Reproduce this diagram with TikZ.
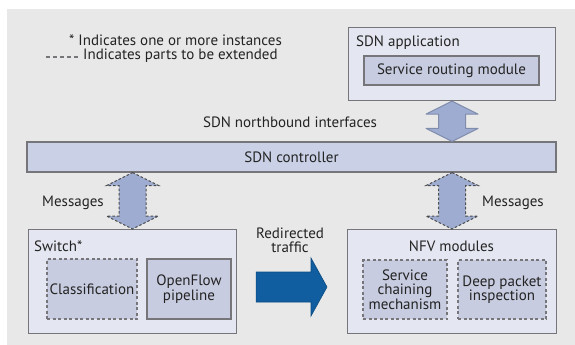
\documentclass[tikz,border=0pt]{standalone}
\usepackage{fontspec}
\setmainfont{PT Sans}
\usepackage{tikz}
\usetikzlibrary{calc}
\definecolor{panel}{RGB}{232,232,232}
\definecolor{framegray}{RGB}{118,118,122}
\definecolor{boxfill}{RGB}{228,231,241}
\definecolor{modfill}{RGB}{199,204,224}
\definecolor{barfill}{RGB}{202,209,230}
\definecolor{arrfill}{RGB}{157,172,208}
\definecolor{arrline}{RGB}{128,140,172}
\definecolor{redirblue}{RGB}{16,94,160}
\definecolor{txtgray}{RGB}{35,35,35}
\tikzset{
  outerbox/.style = {draw=framegray,fill=boxfill,line width=1.1pt,inner sep=0pt},
  innerbox/.style = {draw=framegray,fill=modfill,line width=1.1pt,inner sep=0pt,
                     align=center,font=\fontsize{15}{14.5}\selectfont,text=txtgray},
  extbox/.style   = {innerbox,dash pattern=on 3pt off 2.5pt},
  lbl/.style      = {font=\fontsize{15}{14}\selectfont,text=txtgray,inner sep=0pt,align=center},
  nbarrow/.style  = {fill=arrfill,draw=arrline,line width=1pt,line join=round},
  msgarrow/.style = {fill=arrfill,draw=black!70,line width=1pt,dash pattern=on 2.5pt off 2pt},
  redir/.style    = {fill=redirblue,draw=redirblue!80!black,line width=0.6pt}
}
% fat vertical double arrow from #2 (top) to #3 (bottom)
\newcommand{\updown}[3]{%
  \draw[#1] let \p1=(#2), \p2=(#3) in
    (\x1,\y1) -- (\x1+26pt,\y1-13pt) -- (\x1+13.5pt,\y1-13pt) --
    (\x1+13.5pt,\y2+13pt) -- (\x1+26pt,\y2+13pt) -- (\x1,\y2) --
    (\x1-26pt,\y2+13pt) -- (\x1-13.5pt,\y2+13pt) -- (\x1-13.5pt,\y1-13pt) --
    (\x1-26pt,\y1-13pt) -- cycle;
}

\begin{document}
\begin{tikzpicture}[x=1pt,y=-1pt]
  \useasboundingbox (0,0) rectangle (575,345);
  \fill[panel] (7,9) rectangle (575,345);

  % legend
  \node[lbl,anchor=east] (leg1) at (282,40) {* Indicates one or more instances};
  \node[lbl,anchor=west] (leg2) at (83,56) {Indicates parts to be extended};
  \draw[framegray,line width=1.2pt,dash pattern=on 4pt off 3pt]
    ([xshift=-5pt,yshift=-1pt]leg2.west) -- ++(-32pt,0);

  % SDN application
  \node[outerbox,minimum width=207pt,minimum height=73pt,anchor=north west] (app) at (348,27) {};
  \node[lbl,anchor=west] (apptitle) at (356,43) {SDN application};
  \node[innerbox,minimum width=175pt,minimum height=29pt] (route) at (451.5,70.5) {Service routing module};

  % controller
  \node[innerbox,fill=barfill,minimum width=529pt,minimum height=30pt] (ctrl) at (291.5,157) {SDN controller};

  % switch
  \node[outerbox,minimum width=208pt,minimum height=104pt,anchor=north west] (sw) at (28,229) {};
  \node[lbl,anchor=west] (swtitle) at (34,246) {Switch*};
  \node[extbox,minimum width=90pt,minimum height=60pt] (cls) at (92,289) {Classification};
  \node[innerbox,minimum width=84pt,minimum height=60pt] (ofp) at (189,289) {OpenFlow\\pipeline};

  % NFV modules
  \node[outerbox,minimum width=209pt,minimum height=104pt,anchor=north west] (nfv) at (347,229) {};
  \node[lbl] (nfvtitle) at (451.5,246) {NFV modules};
  \node[extbox,minimum width=84pt,minimum height=59pt] (chain) at (405,289.5) {Service\\chaining\\mechanism};
  \node[extbox,minimum width=88pt,minimum height=59pt] (dpi) at (502,289.5) {Deep packet\\inspection};

  % arrows between the parts
  \updown{nbarrow}{app.south}{app.south |- ctrl.north}
  \updown{msgarrow}{ctrl.south -| sw.north}{sw.north}
  \updown{msgarrow}{ctrl.south -| nfv.north}{nfv.north}
  \node[lbl] (nblbl) at (290,122) {SDN northbound interfaces};
  \node[lbl] (msgl) at (73,203) {Messages};
  \node[lbl] (msgr) at (513,203) {Messages};

  % redirected traffic
  \coordinate (rtail) at ([xshift=19pt]sw.east |- 0,287);
  \coordinate (rtip) at ([xshift=-20pt]nfv.west |- 0,287);
  \draw[redir] let \p1=(rtail), \p2=(rtip) in
    (\x1,\y1+15pt) -- (\x2-16pt,\y1+15pt) -- (\x2-16pt,\y1+29pt) -- (\x2,\y1) --
    (\x2-16pt,\y1-29pt) -- (\x2-16pt,\y1-15pt) -- (\x1,\y1-15pt) -- cycle;
  \node[lbl] (rlbl) at (290,240) {Redirected\\traffic};
\end{tikzpicture}
\end{document}
